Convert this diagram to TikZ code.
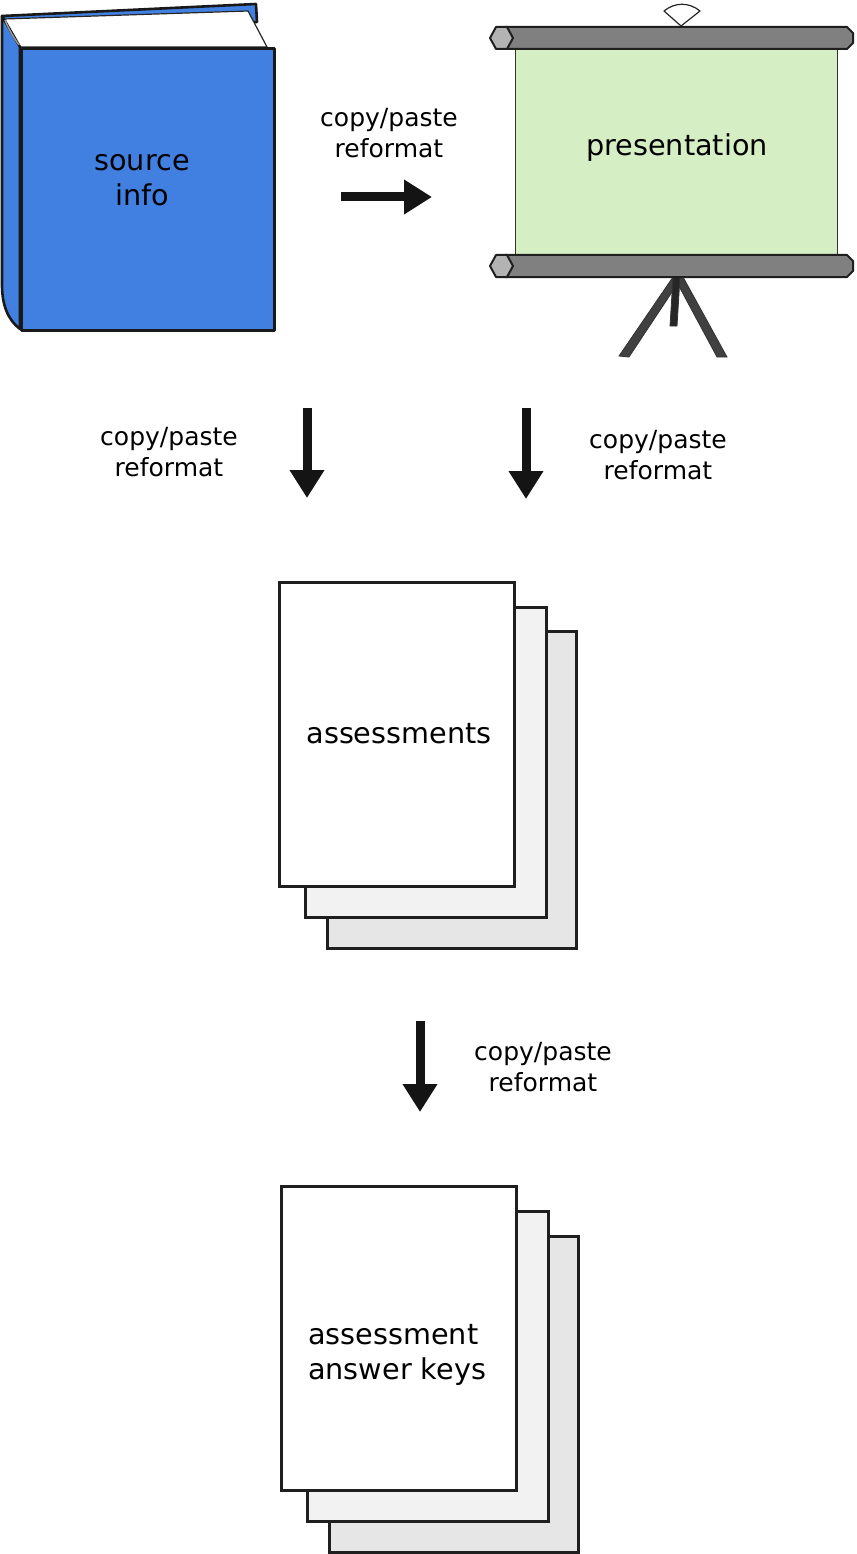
\documentclass[tikz,border=0pt]{standalone}
\usepackage{fontspec}
\setmainfont{DejaVu Sans}
\usetikzlibrary{arrows.meta}
\definecolor{bookblue}{RGB}{65,128,224}
\definecolor{screengreen}{RGB}{213,238,196}
\definecolor{rollgray}{RGB}{128,128,128}
\definecolor{capgray}{RGB}{179,179,179}
\definecolor{leggray}{RGB}{64,64,64}
\definecolor{pageA}{RGB}{242,242,242}
\definecolor{pageB}{RGB}{230,230,230}
\tikzset{
  outline/.style={draw=black!90, line width=2.6pt, line join=round},
  rollout/.style={draw=black!88, line width=2pt, line join=round},
  thinout/.style={draw=black!85, line width=1.2pt, line join=round},
  pagebox/.style={draw=black!88, line width=2.8pt, inner sep=0pt, anchor=north west},
  biglabel/.style={font=\fontsize{28.7}{35}\selectfont, align=center, inner sep=0pt},
  smalllabel/.style={font=\fontsize{25}{31}\selectfont, align=center, inner sep=0pt},
  bigarrow/.style={line width=9pt, draw=black!92, -{Triangle[length=28pt,width=33pt]}},
}
\begin{document}
\begin{tikzpicture}[x=1pt,y=-1pt]
\useasboundingbox (0,0) rectangle (856,1554);

% ---------------- book ----------------
\filldraw[outline, fill=bookblue] (2,16) -- (256,4) -- (257,22) -- (20,47) -- cycle;
\filldraw[thinout, fill=white] (4,19) -- (248,11) -- (267,47) -- (20,47) -- cycle;
\filldraw[outline, fill=bookblue] (2,16) -- (20,47) -- (20,329) .. controls (8,320) and (2,305) .. (2,285) -- cycle;
\draw[draw=black!40, line width=1.5pt] (5,20) .. controls (9,30) and (14,38) .. (19,45);
\node[outline, fill=bookblue, minimum width=253pt, minimum height=282pt, inner sep=0pt, anchor=north west] (book) at (20,47) {};
\node[biglabel] (booklabel) at (142,180) {source\\info};

% ---------------- projection screen ----------------
% hanger
\filldraw[thinout, fill=white] (681,26) -- (664,11) .. controls (675,2) and (689,2) .. (700,11) -- cycle;
% tripod legs
\filldraw[draw=black!80, line width=0.8pt, fill=leggray] (673,277) -- (682,277) -- (629,357) -- (619,356) -- cycle;
\filldraw[draw=black!80, line width=0.8pt, fill=leggray] (674,277) -- (683,277) -- (727,357) -- (717,357) -- cycle;
\filldraw[draw=black!80, line width=0.8pt, fill=black!85] (673,277) -- (680,277) -- (677,326) -- (670,326) -- cycle;
% screen
\node[draw=black!80, line width=1.2pt, fill=screengreen, minimum width=322pt, minimum height=205pt, inner sep=0pt, anchor=north west] (screen) at (515,49) {};
\node[biglabel] (screenlabel) at (677,148) {presentation};
% rollers
\foreach \yy in {38,266}{
  \filldraw[rollout, fill=rollgray] (505,\yy-11) -- (847,\yy-11) -- (853,\yy-5) -- (853,\yy+5) -- (847,\yy+11) -- (505,\yy+11) -- cycle;
  \filldraw[rollout, fill=capgray] (490,\yy) -- (496,\yy-11) -- (507,\yy-11) -- (513,\yy) -- (507,\yy+11) -- (496,\yy+11) -- cycle;
}

% ---------------- assessments stack ----------------
\node[pagebox, fill=pageB, minimum width=249pt, minimum height=317pt] (asC) at (326,630) {};
\node[pagebox, fill=pageA, minimum width=241pt, minimum height=310pt] (asB) at (304,606) {};
\node[pagebox, fill=white, minimum width=235pt, minimum height=304pt] (asA) at (278,581) {};
\node[biglabel] (aslabel) at (399,734) {assessments};

% ---------------- answer keys stack ----------------
\node[pagebox, fill=pageB, minimum width=249pt, minimum height=316pt] (akC) at (328,1235) {};
\node[pagebox, fill=pageA, minimum width=241pt, minimum height=310pt] (akB) at (306,1210) {};
\node[pagebox, fill=white, minimum width=235pt, minimum height=304pt] (akA) at (280,1185) {};
\node[biglabel, align=left, anchor=west] (aklabel) at (308,1355) {assessment\\answer keys};

% ---------------- arrows ----------------
\coordinate (h1s) at (341,197);
\coordinate (h1e) at (432,197);
\coordinate (d1s) at (307,408);
\coordinate (d1e) at (307,498);
\coordinate (d2s) at (526,408);
\coordinate (d2e) at (526,499);
\coordinate (d3s) at (420,1021);
\coordinate (d3e) at (420,1112);
\draw[bigarrow] (h1s) -- (h1e);
\draw[bigarrow] (d1s) -- (d1e);
\draw[bigarrow] (d2s) -- (d2e);
\draw[bigarrow] (d3s) -- (d3e);

% ---------------- labels ----------------
\node[smalllabel] (lab1) at (389,133) {copy/paste\\reformat};
\node[smalllabel] (lab2) at (169,452) {copy/paste\\reformat};
\node[smalllabel] (lab3) at (658,455) {copy/paste\\reformat};
\node[smalllabel] (lab4) at (543,1067) {copy/paste\\reformat};
\end{tikzpicture}
\end{document}
